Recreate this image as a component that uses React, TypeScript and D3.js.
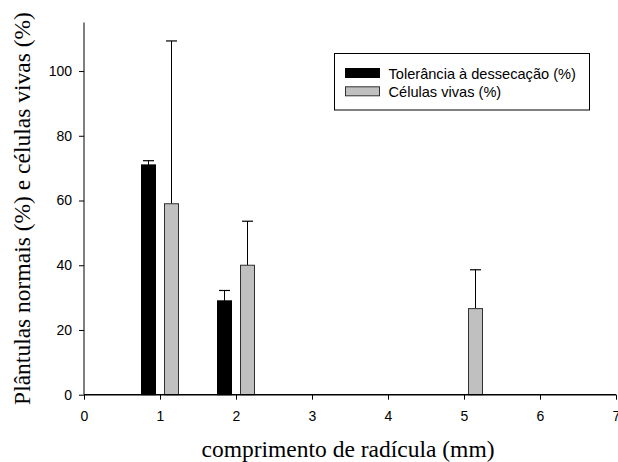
import React, { useEffect, useRef } from "react";
import * as d3 from "d3";

// values
const lengths = [1, 2, 5];
const tolerance = [71, 29, null];
const toleranceErr = [1.3, 3.2, null];
const cells = [59, 40, 26.6];
const cellsErr = [50.3, 13.6, 12];
const xTicks = [0, 1, 2, 3, 4, 5, 6, 7];
const yTicks = [0, 20, 40, 60, 80, 100];
const seriesNames = ["Tolerância à dessecação (%)", "Células vivas (%)"];

const App = () => {
  const ref = useRef<SVGSVGElement>(null);

  useEffect(() => {
    const width = 618;
    const height = 462;
    const svg = d3.select(ref.current).attr("width", width).attr("height", height);
    svg.selectAll("*").remove();

    const x = d3.scaleLinear().domain([0, 7]).range([84, 616]);
    const y = d3.scaleLinear().domain([0, 115]).range([394.7, 22.5]);
    const barW = 14;
    const offset = 11.5;

    const g = svg.append("g");

    // bars
    const series = [
      { vals: tolerance, errs: toleranceErr, fill: "#000000", stroke: "#000000", dx: -offset },
      { vals: cells, errs: cellsErr, fill: "#c0c0c0", stroke: "#303030", dx: offset },
    ];
    series.forEach((s) => {
      lengths.forEach((l, i) => {
        const v = s.vals[i];
        if (v == null) return;
        const cx = x(l) + s.dx;
        const e = s.errs[i] as number;
        // error bar, upward only
        g.append("line")
          .attr("x1", cx).attr("x2", cx)
          .attr("y1", y(v)).attr("y2", y(v + e))
          .attr("stroke", "#000").attr("stroke-width", 1);
        g.append("line")
          .attr("x1", cx - 5.5).attr("x2", cx + 5.5)
          .attr("y1", y(v + e)).attr("y2", y(v + e))
          .attr("stroke", "#000").attr("stroke-width", 1.2);
        g.append("rect")
          .attr("x", cx - barW / 2)
          .attr("y", y(v))
          .attr("width", barW)
          .attr("height", y(0) - y(v))
          .attr("fill", s.fill)
          .attr("stroke", s.stroke)
          .attr("stroke-width", 1);
      });
    });

    // axes
    const xAxis = d3.axisBottom(x).tickValues(xTicks).tickFormat(d3.format("d")).tickSize(5).tickPadding(11);
    const yAxis = d3.axisLeft(y).tickValues(yTicks).tickFormat(d3.format("d")).tickSize(5).tickPadding(7);

    const gx = svg.append("g").attr("transform", `translate(0,${y(0)})`).call(xAxis);
    gx.select(".domain").attr("d", `M${x(0)},0H${x(7)}`).attr("stroke-width", 1.5);
    const gy = svg.append("g").attr("transform", `translate(${x(0)},0)`).call(yAxis);
    gy.select(".domain").attr("d", `M0,${y(115)}V${y(0)}`).attr("stroke-width", 1);

    [gx, gy].forEach((a) => {
      a.selectAll("text")
        .attr("font-family", "'Liberation Sans', Arial, sans-serif")
        .attr("font-size", 14)
        .attr("fill", "#000");
    });

    // axis titles
    svg.append("text")
      .attr("x", 348)
      .attr("y", 456.5)
      .attr("text-anchor", "middle")
      .attr("font-family", "'Liberation Serif', 'Times New Roman', serif")
      .attr("font-size", 23.5)
      .text("comprimento de radícula (mm)");

    svg.append("text")
      .attr("transform", "translate(30,208.5) rotate(-90)")
      .attr("text-anchor", "middle")
      .attr("font-family", "'Liberation Serif', 'Times New Roman', serif")
      .attr("font-size", 23.5)
      .text("Plântulas normais (%) e células vivas (%)");

    // legend
    const lg = svg.append("g");
    lg.append("rect")
      .attr("x", 334.5).attr("y", 53.5)
      .attr("width", 255).attr("height", 56.5)
      .attr("fill", "#fff").attr("stroke", "#000").attr("stroke-width", 1);
    seriesNames.forEach((name, i) => {
      const yy = 68.5 + i * 18.3;
      lg.append("rect")
        .attr("x", 345.5).attr("y", yy)
        .attr("width", 34).attr("height", 9)
        .attr("fill", series[i].fill)
        .attr("stroke", series[i].stroke)
        .attr("stroke-width", 1);
      lg.append("text")
        .attr("x", 388.5).attr("y", yy + 10)
        .attr("font-family", "'Liberation Sans', Arial, sans-serif")
        .attr("font-size", 14.6)
        .text(name);
    });
  }, []);

  return (
    <div style={{ position: "absolute", left: 0, top: 0 }}>
      <svg ref={ref} style={{ display: "block" }}></svg>
    </div>
  );
};

export default App;
